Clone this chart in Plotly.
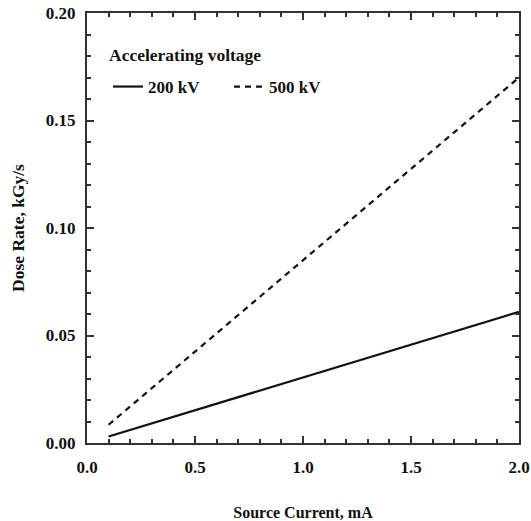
import plotly.graph_objects as go

current = [0.1, 0.5, 1.0, 1.5, 2.0]
dose_200kv = [0.003, 0.0152, 0.0305, 0.0458, 0.061]
dose_500kv = [0.0085, 0.0425, 0.085, 0.1275, 0.170]
series_names = ["200 kV", "500 kV"]
legend_title = "Accelerating voltage"

font_family = "Liberation Serif, Times New Roman, serif"

fig = go.Figure()
fig.add_trace(go.Scatter(x=current, y=dose_200kv, mode="lines", name="<b>" + series_names[0] + "</b>",
                         line=dict(color="#111", width=2.2)))
fig.add_trace(go.Scatter(x=current, y=dose_500kv, mode="lines", name="<b>" + series_names[1] + "</b>",
                         line=dict(color="#111", width=2.2, dash="6px,5px")))

axis_common = dict(
    showline=True, linecolor="#333", linewidth=2, mirror="ticks",
    ticks="inside", ticklen=7, tickwidth=1.5, tickcolor="#333",
    showgrid=False, zeroline=False, automargin=False,
    tickfont=dict(family=font_family, size=17, color="#111", weight="bold"),
)

fig.update_xaxes(range=[0, 2.0], dtick=0.5, tickformat=".1f",
                 minor=dict(ticks="inside", dtick=0.1, ticklen=4, tickwidth=1.5, tickcolor="#333"),
                 title=dict(text="<b>Source Current, mA</b>", font=dict(family=font_family, size=16, color="#111"), standoff=30),
                 ticklabelstandoff=8,
                 **axis_common)
fig.update_yaxes(range=[0, 0.20], dtick=0.05, tickformat=".2f",
                 minor=dict(ticks="inside", dtick=0.01, ticklen=4, tickwidth=1.5, tickcolor="#333"),
                 title=dict(text="<b>Dose Rate, kGy/s</b>", font=dict(family=font_family, size=17.5, color="#111"), standoff=17),
                 ticklabelstandoff=6,
                 **axis_common)

fig.add_annotation(text="<b>" + legend_title + "</b>", xref="paper", yref="paper",
                   x=(107 - 87) / 432, y=(443 - 55) / 430, xanchor="left", yanchor="middle",
                   showarrow=False, font=dict(family=font_family, size=17.5, color="#111"))

fig.update_layout(
    width=531, height=521,
    margin=dict(l=87, r=12, t=13, b=78, autoexpand=False),
    plot_bgcolor="white", paper_bgcolor="white",
    font=dict(family=font_family, color="#111"),
    showlegend=True,
    legend=dict(
        orientation="h", x=(108 - 87) / 432, y=(443 - 87) / 430, xanchor="left", yanchor="middle",
        bgcolor="rgba(0,0,0,0)",
        font=dict(family=font_family, size=17),
        itemwidth=30, entrywidth=76, entrywidthmode="pixels",
    ),
)

fig.write_html("out.html")
